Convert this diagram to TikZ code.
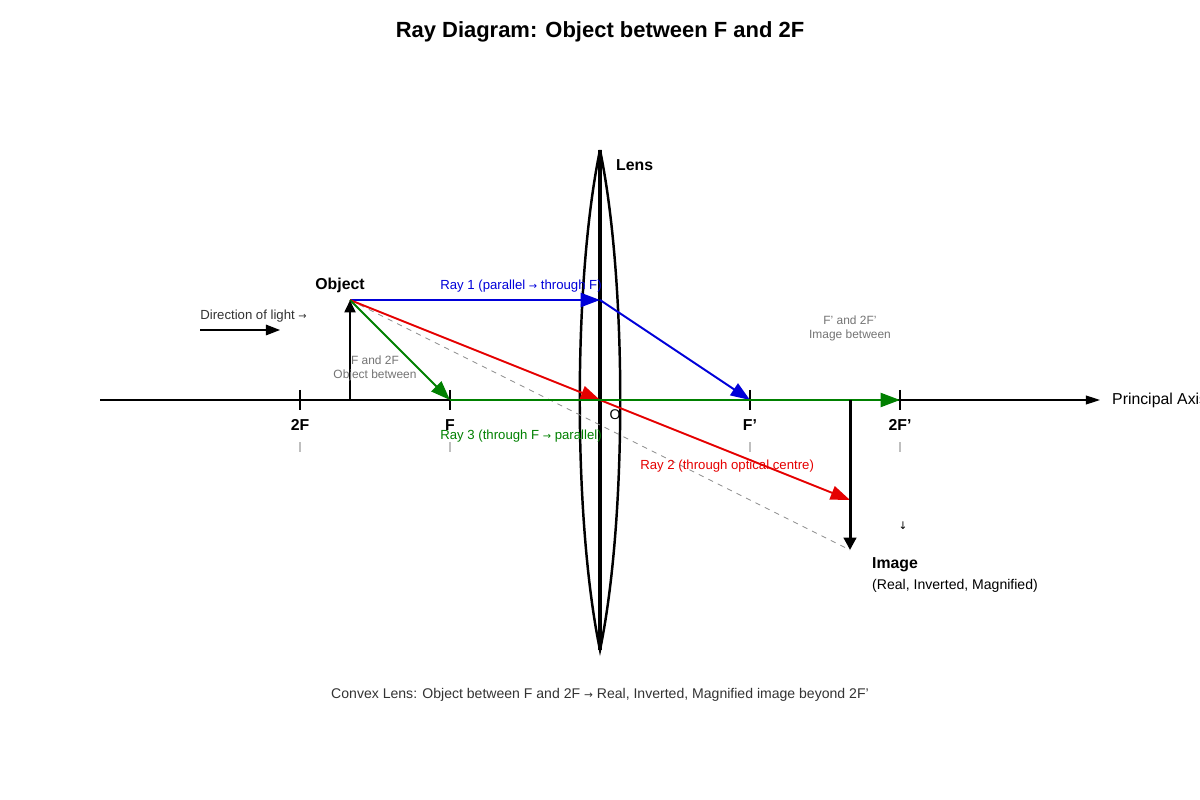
\documentclass[tikz,border=0pt]{standalone}
\usepackage{fontspec}
\setmainfont{Liberation Sans}
\newfontfamily\symf{DejaVu Sans}
\usetikzlibrary{arrows.meta}
\newcommand{\ar}{{\symf\scalebox{0.75}{→}}}
\begin{document}
\begin{tikzpicture}[x=0.02cm,y=-0.02cm,
  ray/.style={line width=1.1pt,-{Triangle[length=11pt,width=8pt]}},
  tick/.style={line width=0.6pt},
  lbl/.style={font=\bfseries\fontsize{9}{10}\selectfont},
  gray/.style={text=black!55,font=\fontsize{6.8}{8}\selectfont,align=center},
  rl/.style={font=\fontsize{7.5}{8}\selectfont,anchor=west,inner sep=0}]
\useasboundingbox (0,0) rectangle (1200,800);
\node[font=\bfseries\fontsize{12.5}{14}\selectfont] (title) at (600,32) {Ray Diagram: Object between F and 2F};
% axis
\coordinate (a0) at (100,400); \coordinate (a1) at (1100,400);
\draw[line width=0.7pt,-{Triangle[length=8pt,width=5pt]}] (a0) -- (a1);
\node[anchor=west,font=\fontsize{9}{10}\selectfont] (pa) at (1106,400) {Principal Axis};
\foreach \x/\t/\n in {300/2F/f2,450/F/f1,750/F'/g1,900/2F'/g2}{
  \draw[tick] (\x,390) -- (\x,410);
  \draw[black!25,line width=0.6pt] (\x,442) -- (\x,452);
  \node[lbl] (\n) at (\x,425) {\t};
}
\node[font=\fontsize{8}{9}\selectfont] (O) at (615,415) {O};
% lens
\coordinate (lt) at (600,150); \coordinate (lb) at (600,650);
\draw[line width=1.4pt] (lt) .. controls (573,280) and (573,520) .. (lb)
                        .. controls (627,520) and (627,280) .. (lt);
\draw[line width=1.8pt] (lt) -- (lb);
\node[lbl,anchor=west] (lens) at (610,165) {Lens};
% rays
\coordinate (ob) at (350,400); \coordinate (ot) at (350,300);
\coordinate (l1) at (600,300); \coordinate (oc) at (600,400);
\coordinate (fp) at (750,400); \coordinate (fo) at (450,400);
\coordinate (f2p) at (900,400);
\coordinate (ib) at (850,400); \coordinate (it) at (850,550); \coordinate (r2e) at (850,500);
\draw[black!45,dashed,line width=0.5pt] (ot) -- (it);
\draw[ray,blue!85!black] (ot) -- (l1);
\draw[ray,blue!85!black] (l1) -- (fp);
\draw[ray,red!90!black] (ot) -- (oc);
\draw[ray,red!90!black] (oc) -- (r2e);
\draw[ray,green!50!black] (ot) -- (fo);
\draw[ray,green!50!black] (fo) -- (f2p);
\draw[line width=1.7pt,-{Triangle[length=7pt,width=6pt]}] (ob) -- (ot);
\draw[line width=1.7pt,-{Triangle[length=7pt,width=7pt]}] (ib) -- (it);
\node[lbl] (objl) at (340,285) {Object};
\node[lbl,anchor=west] (imgl) at (866,565) {Image};
\node[anchor=west,font=\fontsize{8}{9}\selectfont] (imgd) at (866,586) {(Real, Inverted, Magnified)};
\node[font=\symf\fontsize{6}{7}\selectfont] (da) at (903,526) {↓};
% direction of light
\node[anchor=west,inner sep=0,text=black!80,font=\fontsize{7.5}{8}\selectfont] (dl) at (200,316) {Direction of light \ar};
\coordinate (d0) at (200,330); \coordinate (d1) at (280,330);
\draw[line width=0.8pt,-{Triangle[length=8pt,width=6pt]}] (d0) -- (d1);
\node[gray] (ob2) at (375,368) {F and 2F\\Object between};
\node[gray] (im2) at (850,328) {F' and 2F'\\Image between};
\node[rl,text=blue!85!black] (r1) at (440,286) {Ray 1 (parallel \ar{} through F)};
\node[rl,text=green!50!black] (r3) at (440,436) {Ray 3 (through F \ar{} parallel)};
\node[rl,text=red!90!black] (r2) at (640,466) {Ray 2 (through optical centre)};
\node[text=black!80,font=\fontsize{8}{9}\selectfont] (foot) at (600,695) {Convex Lens: Object between F and 2F \ar{} Real, Inverted, Magnified image beyond 2F'};
\end{tikzpicture}
\end{document}
